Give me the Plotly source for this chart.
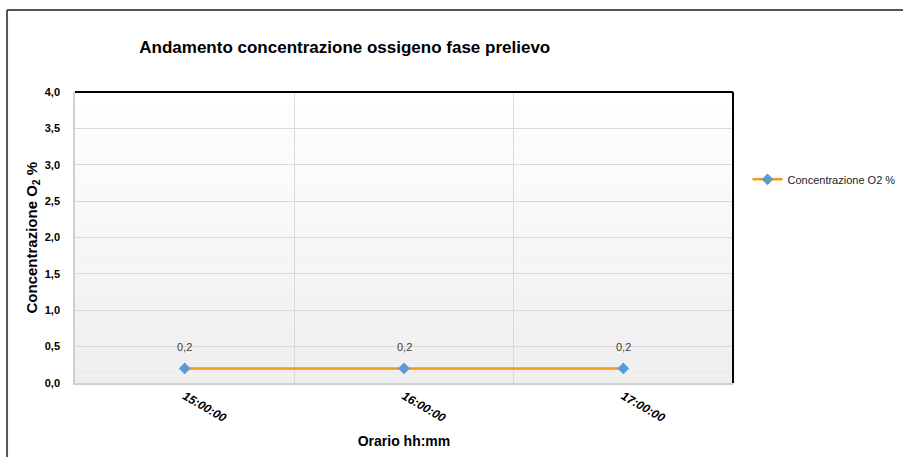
import plotly.graph_objects as go

# Sampling times and measured oxygen concentration (%)
orari = ["15:00:00", "16:00:00", "17:00:00"]
concentrazione_o2 = [0.2, 0.2, 0.2]
serie_nome = "Concentrazione O2 %"

FONT = "Liberation Sans, Arial, sans-serif"

fig = go.Figure()
fig.add_trace(go.Scatter(
    x=orari,
    y=concentrazione_o2,
    name=serie_nome,
    mode="lines+markers",
    line=dict(color="#F39A1E", width=2.5),
    marker=dict(symbol="diamond", size=9, color="#5B9BD5"),
    cliponaxis=False,
))

# Value labels above each point
annotations = [
    dict(x=o, y=v, xref="x", yref="y", text=f"{v:.1f}".replace(".", ","),
         showarrow=False, yshift=21,
         font=dict(family=FONT, size=11, color="#404040"))
    for o, v in zip(orari, concentrazione_o2)
]
# Y axis title
annotations.append(dict(
    x=-0.0653, y=0.5, xref="paper", yref="paper", xanchor="center", yanchor="middle",
    text="<b>Concentrazione O<sub>2</sub> %</b>", textangle=-90, showarrow=False,
    font=dict(family=FONT, size=15, color="#000000"),
))

# Vertical gradient fill of the plotting area (white at top, light gray at bottom)
shapes = []
n_bands = 40
for i in range(n_bands):
    t = i / (n_bands - 1)
    c = int(round(255 - t * (255 - 238)))
    shapes.append(dict(
        type="rect", xref="x domain", yref="y domain",
        x0=0, x1=1, y0=1 - (i + 1) / n_bands, y1=1 - i / n_bands,
        fillcolor=f"rgb({c},{c},{c})", line=dict(width=0), layer="below",
    ))

# Dark top and right borders of the plot area
shapes.append(dict(type="line", xref="paper", yref="paper", x0=0, x1=1, y0=1, y1=1,
                   line=dict(color="#000000", width=2)))
shapes.append(dict(type="line", xref="paper", yref="paper", x0=1, x1=1, y0=0, y1=1,
                   line=dict(color="#000000", width=2)))
# Outer frame of the chart
shapes.append(dict(type="line", xref="paper", yref="paper", x0=-0.1033, x1=1.5, y0=1.2818, y1=1.2818,
                   line=dict(color="#555555", width=2)))
shapes.append(dict(type="line", xref="paper", yref="paper", x0=-0.1033, x1=-0.1033, y0=1.2818, y1=-0.5,
                   line=dict(color="#555555", width=2)))

fig.update_layout(
    width=903, height=457,
    margin=dict(l=75, r=170, t=92, b=74, autoexpand=False),
    paper_bgcolor="white",
    plot_bgcolor="rgba(0,0,0,0)",
    separators=",.",
    font=dict(family=FONT, color="#000000"),
    title=dict(
        text="<b>Andamento concentrazione ossigeno fase prelievo</b>",
        x=0.41, xref="paper", xanchor="center",
        y=0.897, yref="container", yanchor="middle",
        font=dict(family=FONT, size=17, color="#000000"),
    ),
    showlegend=True,
    legend=dict(
        x=1.022, y=0.70, xanchor="left", yanchor="middle",
        bgcolor="rgba(0,0,0,0)",
        font=dict(family=FONT, size=11, color="#222222"),
        itemwidth=30,
    ),
    xaxis=dict(
        type="category",
        range=[-0.5, 2.5],
        tickson="boundaries",
        showgrid=True, gridcolor="#d9d9d9", gridwidth=1,
        showline=True, linecolor="#d0d0d0", linewidth=1.5,
        ticks="",
        tickangle=30,
        tickfont=dict(family=FONT, size=12, color="#000000", weight="bold", style="italic"),
        title=dict(text="<b>Orario hh:mm</b>", font=dict(family=FONT, size=14, color="#000000"), standoff=12),
        zeroline=False,
    ),
    yaxis=dict(
        range=[0, 4.0],
        dtick=0.5,
        tickformat=".1f",
        showgrid=True, gridcolor="#d9d9d9", gridwidth=1,
        showline=True, linecolor="#d0d0d0", linewidth=1.5,
        ticks="",
        ticklabelstandoff=11,
        tickfont=dict(family=FONT, size=11, color="#000000", weight="bold"),
        zeroline=False,
    ),
    shapes=shapes,
    annotations=annotations,
)

fig.write_html("out.html")
